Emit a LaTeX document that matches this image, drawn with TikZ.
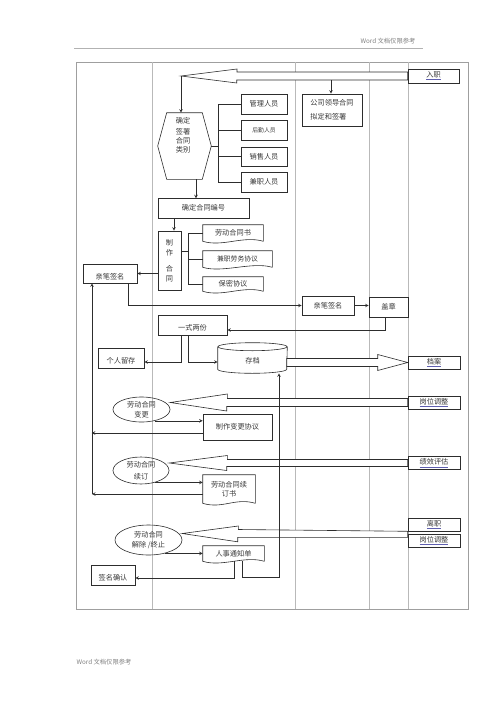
\documentclass[tikz,border=0pt]{standalone}
\usepackage{fontspec}
\newfontfamily\cjk{Noto Sans CJK SC}
\usetikzlibrary{shapes.geometric}
\definecolor{lc}{RGB}{45,45,45}
\definecolor{txt}{RGB}{55,55,55}
\definecolor{lnkc}{RGB}{95,95,175}
\newcommand{\lnk}[1]{{\color{lnkc}\underline{\textcolor{txt}{#1}}}}
\begin{document}
\begin{tikzpicture}[>=stealth,x=1pt,y=-1pt,line width=0.6pt,color=lc,
        every node/.style={font=\cjk\fontsize{7.2}{9}\selectfont,text=txt,inner sep=1pt},
        box/.style={draw},
        doc/.style={},
        ell/.style={draw,ellipse,align=center,inner sep=0pt,font=\cjk\fontsize{7.2}{10}\selectfont},
        blk/.style={draw,fill=white},
        lane/.style={draw=gray!55,line width=0.5pt},
        low/.style={text height=11pt,text depth=0pt},
        hd/.style={font=\cjk\fontsize{6.3}{7}\selectfont,text=gray}]
        \useasboundingbox (0,0) rectangle (500,707);
        \node[hd] (hdr) at (388,41) {Word 文档仅限参考};
        \node[hd] (ftr) at (104,662) {Word 文档仅限参考};
        \draw[gray!60,line width=0.5pt] (74,48)--(423,48);
        \draw[gray!75] (76,62) rectangle (468,609);
        \foreach \x in {152,295,369,408} \draw[lane] (\x,62)--(\x,609);
        \node[box,minimum width=51pt,minimum height=14pt] (rz) at (433.5,76) {\lnk{入职}};
        \node[minimum width=53pt,minimum height=66pt] (qd) at (184.5,146) {};
        \draw ([xshift=9pt]qd.north west)--([xshift=-9pt]qd.north east)--(qd.east)--([xshift=-9pt]qd.south east)--([xshift=9pt]qd.south west)--(qd.west)--cycle;
        \node[align=center] (qdt) at (183,135) {确定\\[2pt]签署\\合同\\类别};
        \node[box,minimum width=46pt,minimum height=20pt] (gl) at (264,104) {管理人员};
        \node[box,minimum width=46pt,minimum height=20pt,font=\cjk\fontsize{5.8}{7}\selectfont] (hq) at (264,130) {后勤人员};
        \node[box,minimum width=46pt,minimum height=19pt] (xs) at (264,156.5) {销售人员};
        \node[box,minimum width=46pt,minimum height=20pt] (jz) at (264,182) {兼职人员};
        \node[box,minimum width=60pt,minimum height=32pt,align=left] (gs) at (332,110) {公司领导合同\\[5pt]拟定和签署};
        \node[box,minimum width=91pt,minimum height=20pt] (bh) at (203.5,208) {确定合同编号};
        \node[box,minimum width=23pt,minimum height=59pt,align=center,font=\cjk\fontsize{7.2}{10}\selectfont] (zz) at (169.5,260.5) {制\\作\\[6pt]合\\同};
        \node[doc,minimum width=60pt,minimum height=16pt] (ld) at (233,233) {劳动合同书};
        \node[doc,minimum width=69pt,minimum height=16pt,font=\cjk\fontsize{6.8}{8}\selectfont] (jl) at (237.5,259) {兼职劳务协议};
        \node[doc,minimum width=60pt,minimum height=14pt] (bm) at (233,284) {保密协议};
        \node[box,minimum width=54pt,minimum height=19pt,low] (qb1) at (110,273.5) {亲笔签名};
        \node[box,minimum width=52pt,minimum height=19pt] (qb2) at (328,305.5) {亲笔签名};
        \node[box,minimum width=39pt,minimum height=20pt] (gz) at (388.5,307) {盖章};
        \node[box,minimum width=69pt,minimum height=20pt,low] (ys) at (192.5,325) {一式两份};
        \node[box,minimum width=46pt,minimum height=20pt,low] (gr) at (121,358) {个人留存};
        \node[minimum width=69pt,minimum height=30pt,low] (cd) at (252.5,358) {存档};
        \node[box,minimum width=52pt,minimum height=13pt] (da) at (434,362.5) {\lnk{档案}};
        \node[ell,minimum width=57pt,minimum height=25pt] (bg) at (141.5,409.5) {劳动合同\\变更};
        \node[ell,minimum width=56pt,minimum height=27pt] (xd) at (141,470.5) {劳动合同\\[2pt]续订};
        \node[ell,minimum width=67pt,minimum height=30pt] (jc) at (148.5,540) {劳动合同\\解除 /终止};
        \node[box,minimum width=69pt,minimum height=26pt] (bgxy) at (237.5,427) {制作变更协议};
        \node[doc,minimum width=52pt,minimum height=28pt,align=center] (xdsh) at (229,489) {劳动合同续\\订书};
        \node[doc,minimum width=61pt,minimum height=15pt] (rs) at (233.5,553.5) {人事通知单};
        \node[box,minimum width=44pt,minimum height=20pt,low] (qr) at (113,575) {签名确认};
        \node[box,minimum width=52pt,minimum height=13pt] (gw1) at (434,402.5) {\lnk{岗位调整}};
        \node[box,minimum width=52pt,minimum height=13pt] (jx) at (434,463) {\lnk{绩效评估}};
        \node[box,minimum width=52pt,minimum height=13pt] (lz) at (434,524.5) {\lnk{离职}};
        \node[box,minimum width=52pt,minimum height=13pt] (gw2) at (434,540.5) {\lnk{岗位调整}};
        \foreach \d in {ld,jl,bm,xdsh,rs}
            \draw (\d.south east)--(\d.north east)--(\d.north west)--(\d.south west) .. controls +(20,6) and +(-20,-6) .. (\d.south east);
        \draw ([yshift=-4pt]cd.north) ellipse (34.5 and 4);
        \draw ([yshift=-4pt]cd.north west)--([yshift=4pt]cd.south west) arc[start angle=180,end angle=0,x radius=34.5,y radius=4]--([yshift=-4pt]cd.north east);
        \coordinate (tipA) at (181,76);
        \coordinate (sA) at (331,80);
        \coordinate (tipB) at ([yshift=7pt]bg.east);
        \coordinate (tipC) at ([yshift=7.5pt]xd.east);
        \coordinate (tipD) at ([yshift=6.5pt]jc.east);
        \coordinate (sp) at (92,494);
        \coordinate (cB) at (279,577);
        \draw[blk] (tipA)--++(56,-7)--++(0,3)--([yshift=4pt]rz.west)--([yshift=-4pt]rz.west)--++(-171,0)--++(0,3)--cycle;
        \draw[blk] (da.west)--++(-30,-8)--++(0,4)--++(-91,0)--++(0,8)--++(91,0)--++(0,4)--cycle;
        \draw[blk] (tipB)--++(57,-8.5)--++(0,4.5)--([yshift=4pt]gw1.west)--([yshift=-4pt]gw1.west)--++(-181,0)--++(0,4.5)--cycle;
        \draw[blk] (tipC)--++(58,-7.5)--++(0,4)--([yshift=3.5pt]jx.west)--([yshift=-3.5pt]jx.west)--++(-181,0)--++(0,4)--cycle;
        \draw[blk] (tipD)--++(56,-7.5)--++(0,3.5)--(lz.south west)--++(0,6)--++(-170,0)--++(0,4.5)--cycle;
        \draw[->] (tipA)--(tipA |- qd.north);
        \draw[->] (sA)--(sA |- gs.north);
        \draw (qd.east)--++(8,0);
        \draw (gl.west)--++(-22,0) |- (jz.west);
        \draw (hq.west)--++(-22,0);
        \draw (xs.west)--++(-22,0);
        \draw[->] ([xshift=11.5pt]qd.south)--++(0,19);
        \draw[<-] ([xshift=4.5pt]zz.north)--++(0,-13);
        \draw ([yshift=9.5pt]zz.east)--++(8,0);
        \draw (ld.west)--++(-14,0) |- (bm.west);
        \draw (jl.west)--++(-14,0);
        \draw[->] (zz.west |- qb1.east)--(qb1.east);
        \draw[->] ([xshift=18pt]qb1.south) |- (qb2.west);
        \draw[->] (qb2.east)--(qb2.east -| gz.west);
        \draw[->] ([xshift=-3.5pt]gz.south) |- ([yshift=-5pt]ys.east);
        \draw[->] ([xshift=-11.5pt]ys.south) |- ([yshift=-4pt]gr.east);
        \draw[->] ([xshift=-4.5pt]ys.south) |- ([yshift=-4pt]cd.west);
        \draw[->] (bg.320)--(bg.320 -| bgxy.west);
        \draw[->] (xd.320)--(xd.320 -| xdsh.west);
        \draw[->] (jc.320)--(jc.320 -| rs.west);
        \draw[->] ([yshift=-6pt]bgxy.west)--++(-111,0);
        \draw[->] ([yshift=-5pt]xdsh.west)--(sp);
        \draw[->] (sp)--(sp |- qb1.south);
        \draw[->] ([xshift=8.5pt]rs.south) |- (cB)--(cB |- cd.south);
        \draw[->] ([xshift=0.5pt]rs.south) |- ([yshift=-3pt]qr.east);
        \end{tikzpicture}
\end{document}
